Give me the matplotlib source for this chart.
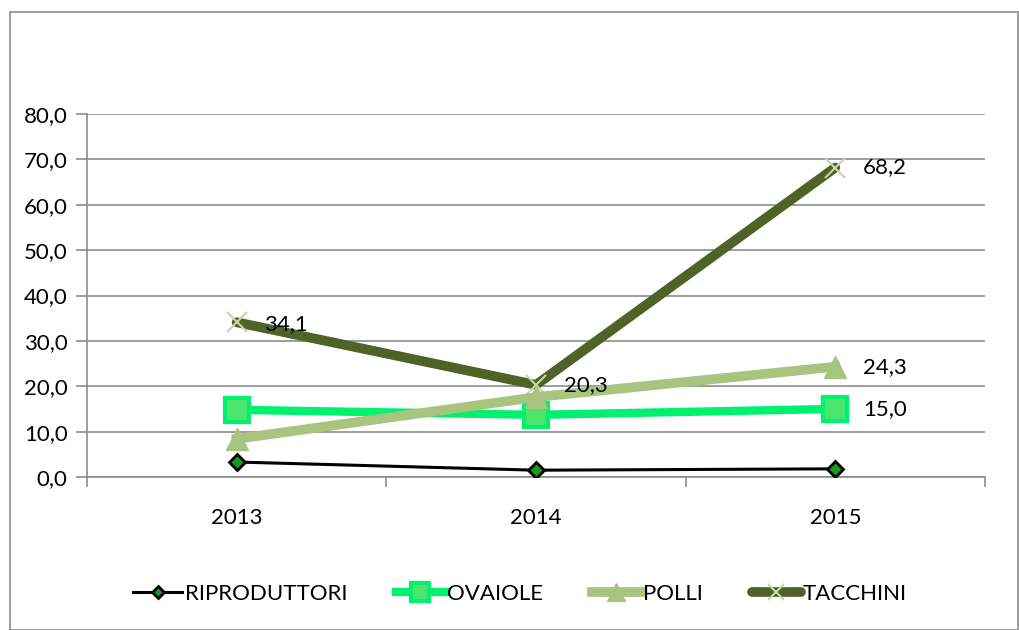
import matplotlib
matplotlib.use("Agg")
import matplotlib.pyplot as plt
from matplotlib.patches import Rectangle

plt.rcParams['font.family'] = ['Lato', 'DejaVu Sans']

years = ["2013", "2014", "2015"]
riproduttori = [3.3, 1.5, 1.8]
ovaiole = [14.8, 13.7, 15.0]
polli = [8.4, 17.6, 24.3]
tacchini = [34.1, 20.3, 68.2]
yticks = [0, 10, 20, 30, 40, 50, 60, 70, 80]

fig = plt.figure(figsize=(10.2, 6.3), dpi=100)
ax = fig.add_axes([87/1020, 1-477/630, (985-87)/1020, (477-114)/630])

x = list(range(len(years)))
grid_c = '#8c8c8c'

ax.plot(x, tacchini, color='#4F6228', lw=7, marker='x', ms=14, mec='#c5d6a8', mew=1.5,
        label='TACCHINI', zorder=3, solid_capstyle='round')
ax.plot(x, ovaiole, color='#00F070', lw=6, marker='s', ms=17, mfc='#4ee56f', mec='#00F070', mew=3,
        label='OVAIOLE', zorder=4)
ax.plot(x, polli, color='#A9C47F', lw=7, marker='^', ms=16, mfc='#A9C47F', mec='#A9C47F',
        label='POLLI', zorder=5)
ax.plot(x, riproduttori, color='black', lw=2.2, marker='D', ms=8, mfc='#1a9a1a', mec='black', mew=2,
        label='RIPRODUTTORI', zorder=6)

fs = 16
def lab(i, v, dy=0):
    ax.annotate(f"{v:.1f}".replace('.', ','), (i, v), xytext=(20, dy), textcoords='offset points',
                fontsize=fs, va='center', ha='left', zorder=7)
lab(0, tacchini[0], -1)
lab(1, tacchini[1], 0)
lab(2, tacchini[2], 0)
lab(2, polli[2], 0)
lab(2, ovaiole[2], 0)

ax.set_xlim(-0.5, 2.5)
ax.set_ylim(0, 80)
ax.set_yticks(yticks)
ax.set_yticklabels([f"{v:.1f}".replace('.', ',') for v in yticks], fontsize=fs)
ax.set_xticks(x)
ax.set_xticklabels(years, fontsize=fs)
ax.set_xticks([-0.5, 0.5, 1.5, 2.5], minor=True)
ax.tick_params(axis='x', which='major', length=0, pad=22)
ax.tick_params(axis='x', which='minor', length=7, color=grid_c, width=1.2)
ax.tick_params(axis='y', length=8, color=grid_c, width=1.2, pad=6)
ax.yaxis.grid(True, color=grid_c, lw=1.2)
ax.set_axisbelow(True)
for s in ['top', 'right']:
    ax.spines[s].set_visible(False)
for s in ['left', 'bottom']:
    ax.spines[s].set_color(grid_c)
    ax.spines[s].set_linewidth(1.2)

h, l = ax.get_legend_handles_labels()
order = [3, 1, 2, 0]
fig.legend([h[i] for i in order], [l[i] for i in order], loc='center', bbox_to_anchor=(0.51, 1-594/630),
           ncol=4, frameon=False, fontsize=fs, handlelength=2.2, handletextpad=0.1, columnspacing=2.2,
           markerscale=0.8)

fig.patches.append(Rectangle((10/1020, 0), 1008/1020, 1-12/630, transform=fig.transFigure,
                             fill=False, edgecolor=grid_c, lw=1.2))

fig.savefig('out.png', dpi=100)
